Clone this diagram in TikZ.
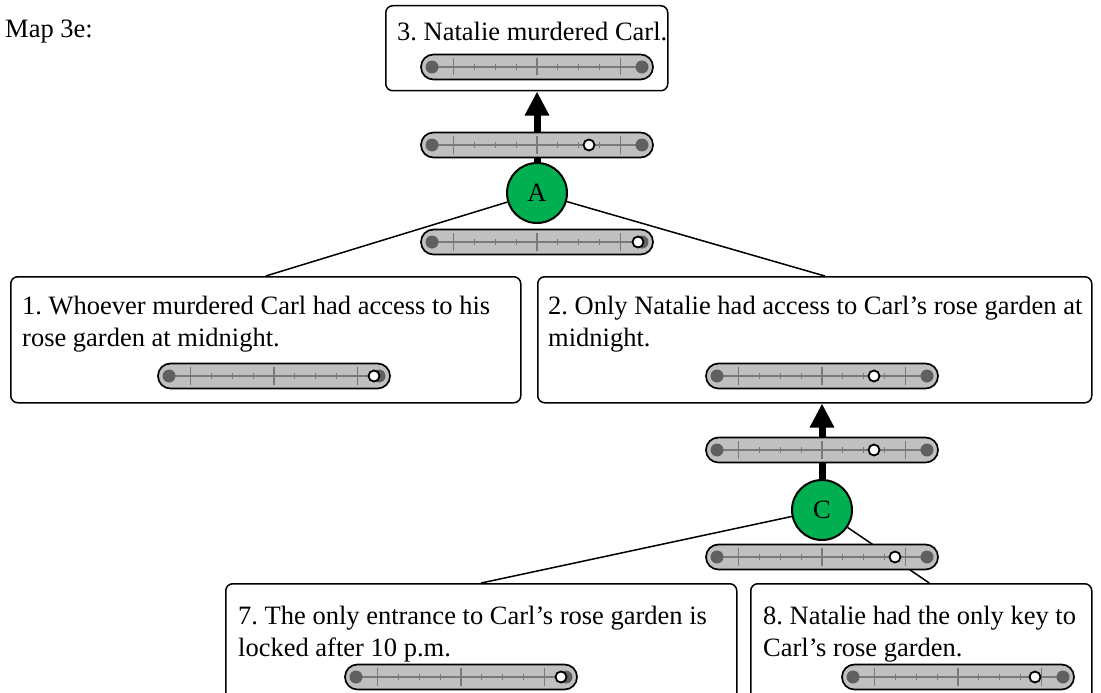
\documentclass[tikz,border=0pt]{standalone}
\usepackage{xcolor}
\usepackage{fontspec}
\setmainfont{Liberation Serif}
\usepackage{tikz}
\usetikzlibrary{arrows.meta, calc}

\definecolor{schemegreen}{HTML}{00B050}
\definecolor{barfill}{HTML}{C0C0C0}
\definecolor{bardot}{HTML}{606060}
\definecolor{barline}{HTML}{7A7A7A}
\newcommand{\claimsize}{\fontsize{26.5}{31.5}\selectfont\frenchspacing}

\tikzset{
  claim/.style={draw, rounded corners=7pt, line width=1.5pt, anchor=north west, inner sep=0pt},
  claimtext/.style={anchor=base west, inner sep=0pt, align=left, font=\claimsize},
  scheme/.style={circle, draw, line width=2pt, fill=schemegreen, minimum size=60pt, inner sep=0pt, font=\claimsize},
  link/.style={line width=1.5pt},
  support/.style={line width=7pt, -{Triangle[width=23pt,length=24pt]}},
  pics/bar/.style={code={
    \draw[line width=1.7pt, fill=barfill, rounded corners=12.4pt] (-116,-12.5) rectangle (116,12.5);
    \draw[barline, line width=1.3pt] (-105,0) -- (105,0);
    \foreach \t in {1,...,7}{\draw[barline, line width=1.3pt] ({-83.2+20.8*\t},-3) -- ++(0,6);}
    \foreach \t in {-83.2,0,83.2}{\draw[barline, line width=1.3pt] (\t,-9) -- (\t,8.5);}
    \fill[bardot] (-105,0) circle (6.5) (105,0) circle (6.5);
  }},
  pics/slider/.style={code={
    \pic {bar};
    \draw[line width=1.8pt, fill=white] (#1,0) circle (5.5);
  }}
}

\begin{document}
\begin{tikzpicture}[x=1pt, y=-1pt]
  \useasboundingbox (0,0) rectangle (1101,693);

  \node[claimtext] (title) at (5,38) {Map 3e:};

  % claim boxes
  \node[claim, minimum width=282pt, minimum height=85pt] (claim3) at (385,5) {};
  \node[claim, minimum width=510pt, minimum height=126pt] (claim1) at (10,276) {};
  \node[claim, minimum width=554pt, minimum height=126pt] (claim2) at (537,276) {};
  \node[claim, minimum width=511pt, minimum height=126pt] (claim7) at (225,583) {};
  \node[claim, minimum width=341pt, minimum height=126pt] (claim8) at (750,583) {};

  % schemes
  \node[scheme] (schemeA) at (537,193) {A};
  \node[scheme] (schemeC) at (822,510) {C};

  \draw[link] (schemeA) -- (claim1.north);
  \draw[link] (schemeA) -- ($(claim2.north)+(10,0)$);
  \draw[link] (schemeC) -- (claim7.north);
  \draw[link] (schemeC) -- ($(claim8.north)+(8,0)$);

  \draw[support] (schemeA) -- (schemeA |- claim3.south);
  \draw[support] (schemeC) -- (schemeC |- claim2.south);

  % sliders
  \pic at (537,67) {bar};
  \pic at (537,145) {slider=52};
  \pic at (537,242) {slider=101};
  \pic at (274,376) {slider=100};
  \pic at (822,376) {slider=52};
  \pic at (822,450) {slider=52};
  \pic at (822,557) {slider=73};
  \pic at (461,677) {slider=100};
  \pic at (958,677) {slider=77};

  % texts (base = last line)
  \node[claimtext] (text3) at (397,41) {3. Natalie murdered Carl.};
  \node[claimtext] (text1) at (22,346) {1. Whoever murdered Carl had access to his\\rose garden at midnight.};
  \node[claimtext] (text2) at (548,346) {2. Only Natalie had access to Carl’s rose garden at\\midnight.};
  \node[claimtext] (text7) at (238,656) {7. The only entrance to Carl’s rose garden is\\locked after 10 p.m.};
  \node[claimtext] (text8) at (763,656) {8. Natalie had the only key to\\Carl’s rose garden.};
\end{tikzpicture}
\end{document}
